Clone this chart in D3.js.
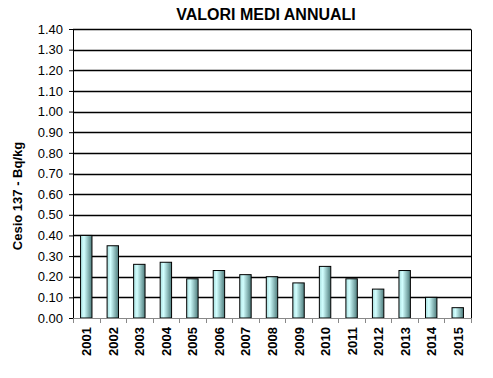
<!DOCTYPE html>
<html>
<head>
<meta charset="utf-8">
<script src="https://cdn.jsdelivr.net/npm/d3@7"></script>
<style>
  body { margin: 0; background: #fff; }
  svg { font-family: Arial, "Liberation Sans", sans-serif; }
</style>
</head>
<body>
<svg width="493" height="378"></svg>
<script>
// chart data
const years = ['2001','2002','2003','2004','2005','2006','2007','2008','2009','2010','2011','2012','2013','2014','2015'];
const values = [0.40, 0.35, 0.26, 0.27, 0.19, 0.23, 0.21, 0.20, 0.17, 0.25, 0.19, 0.14, 0.23, 0.10, 0.05];
const yTicks = [0, 0.1, 0.2, 0.3, 0.4, 0.5, 0.6, 0.7, 0.8, 0.9, 1.0, 1.1, 1.2, 1.3, 1.4];

const svg = d3.select('svg');
const margin = {top: 29, left: 73, right: 22, bottom: 60};
const width = 493, height = 378;
const innerWidth = width - margin.left - margin.right;
const innerHeight = height - margin.top - margin.bottom;

// gradient for the bars
const grad = svg.append('defs').append('linearGradient')
    .attr('id', 'barGrad')
    .attr('x1', '0%').attr('x2', '100%').attr('y1', '0%').attr('y2', '0%');
grad.append('stop').attr('offset', '0%').attr('stop-color', '#a9dede');
grad.append('stop').attr('offset', '30%').attr('stop-color', '#d2ffff');
grad.append('stop').attr('offset', '100%').attr('stop-color', '#4d7c7c');

const g = svg.append('g')
    .attr('transform', `translate(${margin.left}, ${margin.top})`);

const xScale = d3.scaleBand()
    .domain(years)
    .range([0, innerWidth])
    .paddingInner(0.57)
    .paddingOuter(0.285);

const yScale = d3.scaleLinear()
    .domain([0, 1.4])
    .range([innerHeight, 0]);

// gridlines
g.selectAll('.grid')
    .data(yTicks.slice(1))
    .join('line')
    .attr('class', 'grid')
    .attr('x1', 0).attr('x2', innerWidth)
    .attr('y1', d => Math.round(yScale(d)) + 0.5)
    .attr('y2', d => Math.round(yScale(d)) + 0.5)
    .attr('stroke', '#000')
    .attr('stroke-width', 1.5);

// right border
g.append('line')
    .attr('x1', innerWidth + 0.5).attr('x2', innerWidth + 0.5)
    .attr('y1', Math.round(yScale(1.4)) + 0.5).attr('y2', innerHeight)
    .attr('stroke', '#000');

// bars
g.selectAll('.bar')
    .data(values)
    .join('rect')
    .attr('class', 'bar')
    .attr('x', (d, i) => xScale(years[i]))
    .attr('width', xScale.bandwidth())
    .attr('y', d => yScale(d))
    .attr('height', d => innerHeight - yScale(d))
    .attr('fill', 'url(#barGrad)')
    .attr('stroke', '#000')
    .attr('stroke-width', 1);

// y axis
const yAxis = g.append('g')
    .call(d3.axisLeft(yScale).tickValues(yTicks).tickFormat(d3.format('.2f')).tickSize(4).tickSizeOuter(0));
yAxis.select('.domain').attr('stroke', '#000');
yAxis.selectAll('.tick line').attr('stroke', '#000');
yAxis.selectAll('text')
    .attr('font-size', '13px')
    .attr('font-family', 'Arial, "Liberation Sans", sans-serif')
    .attr('fill', '#000')
    .attr('x', -10);

// x axis with ticks at category boundaries
const xAxisG = g.append('g')
    .attr('transform', `translate(0, ${innerHeight})`);
xAxisG.append('line')
    .attr('x1', 0).attr('x2', innerWidth)
    .attr('y1', 0.5).attr('y2', 0.5)
    .attr('stroke', '#888');
xAxisG.selectAll('.xtick')
    .data(d3.range(years.length + 1))
    .join('line')
    .attr('class', 'xtick')
    .attr('x1', i => Math.round(i * innerWidth / years.length) + 0.5)
    .attr('x2', i => Math.round(i * innerWidth / years.length) + 0.5)
    .attr('y1', 0).attr('y2', 5)
    .attr('stroke', '#888');
xAxisG.selectAll('.xlabel')
    .data(years)
    .join('text')
    .attr('class', 'xlabel')
    .attr('transform', d => `translate(${xScale(d) + xScale.bandwidth() / 2 + 5}, 9) rotate(-90)`)
    .attr('text-anchor', 'end')
    .attr('font-size', '13px')
    .attr('font-weight', 'bold')
    .text(d => d);

// title
svg.append('text')
    .attr('x', 266)
    .attr('y', 20)
    .attr('text-anchor', 'middle')
    .attr('font-size', '16px')
    .attr('font-weight', 'bold')
    .text('VALORI MEDI ANNUALI');

// y label
svg.append('text')
    .attr('transform', 'translate(22, 196) rotate(-90)')
    .attr('text-anchor', 'middle')
    .attr('font-size', '13px')
    .attr('font-weight', 'bold')
    .text('Cesio 137  - Bq/kg');
</script>
</body>
</html>
